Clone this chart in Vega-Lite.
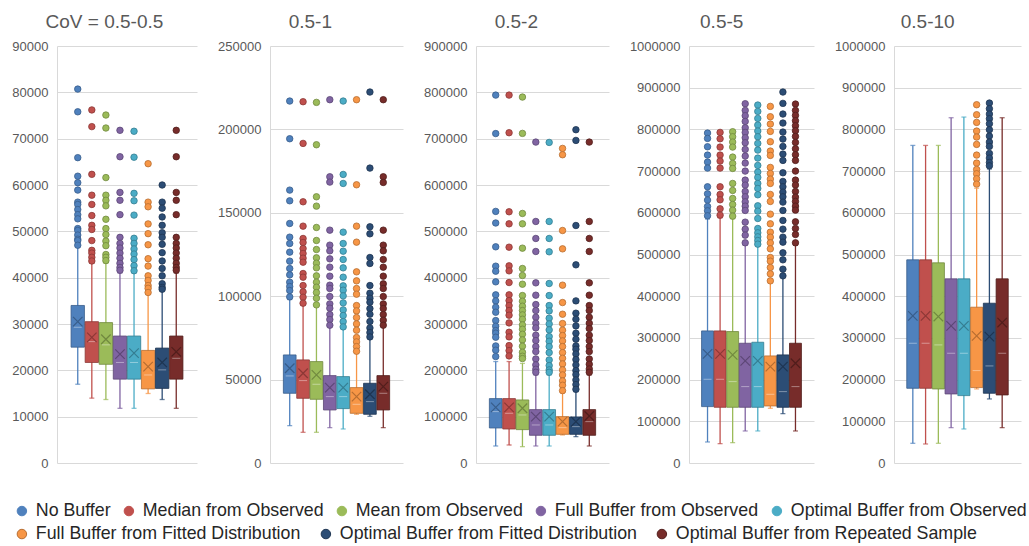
{
"$schema": "https://vega.github.io/schema/vega-lite/v6.json",
"padding": {"left": 11, "top": 13, "right": 0, "bottom": 0},
"spacing": 20,
"config": {
  "font": "Liberation Sans",
  "view": {"stroke": null},
  "axisY": {"domainColor": "#d9d9d9", "gridColor": "#d9d9d9", "ticks": false, "labelPadding": 9, "labelColor": "#595959", "labelFontSize": 13, "format": "d", "grid": true},
  "title": {"fontSize": 19, "fontWeight": "normal", "color": "#595959", "frame": "bounds", "anchor": "middle", "offset": 8}
},
"datasets": {"boxes": [
{"panel":1,"series":"No Buffer","low":17000,"q1":25000,"median":29300,"q3":34000,"high":46700,"mean":30500,"outliers":[80700,75800,65900,61900,60500,58900,56300,55800,54700,53600,52700,50600,50200,49200,48300,48000,47000]},
{"panel":1,"series":"Median from Observed","low":14000,"q1":21700,"median":26200,"q3":30500,"high":43100,"mean":27100,"outliers":[76200,72600,62300,57800,55800,53400,51300,50400,48000,45900,45300,44400,43600]},
{"panel":1,"series":"Mean from Observed","low":13700,"q1":21300,"median":25500,"q3":30300,"high":43100,"mean":26700,"outliers":[75100,72300,61600,57800,56700,55500,52600,50600,49300,47900,46900,45000,44400,43700]},
{"panel":1,"series":"Full Buffer from Observed","low":11800,"q1":18100,"median":21700,"q3":27400,"high":41000,"mean":23500,"outliers":[71800,66100,58400,56700,53600,48700,47400,46400,45300,44200,43100,42200,41600]},
{"panel":1,"series":"Optimal Buffer from Observed","low":11800,"q1":18100,"median":21700,"q3":27400,"high":41000,"mean":23700,"outliers":[71600,66000,58200,56600,53500,48500,47400,46200,45100,43900,42600,41500]},
{"panel":1,"series":"Full Buffer from Fitted Distribution","low":15000,"q1":16000,"median":19000,"q3":24300,"high":36500,"mean":20800,"outliers":[64600,56300,55300,51600,49500,47100,44100,42500,40400,39400,38300,37700,36800]},
{"panel":1,"series":"Optimal Buffer from Fitted Distribution","low":13700,"q1":16100,"median":20100,"q3":24800,"high":37300,"mean":21700,"outliers":[60000,56300,55000,53100,51300,49700,48700,47200,45400,43600,42000,40400,38700,37900,37500]},
{"panel":1,"series":"Optimal Buffer from Repeated Sample","low":11800,"q1":18100,"median":22600,"q3":27400,"high":41000,"mean":24000,"outliers":[71800,66100,58400,56700,53600,48700,47400,46400,45300,44200,43100,42200,41600]},
{"panel":2,"series":"No Buffer","low":22400,"q1":41800,"median":52200,"q3":64800,"high":98000,"mean":56800,"outliers":[217000,194400,163600,157200,143600,135400,131600,126400,121000,116600,112800,108400,105800,103400,99600]},
{"panel":2,"series":"Median from Observed","low":18400,"q1":38800,"median":49400,"q3":61800,"high":94500,"mean":53800,"outliers":[216600,191600,156600,142000,134600,132200,128600,125600,122800,120400,113600,111400,106400,102600,99400,95800]},
{"panel":2,"series":"Mean from Observed","low":18400,"q1":38200,"median":47200,"q3":60800,"high":94000,"mean":52800,"outliers":[216200,190800,159600,154000,141200,133400,128000,123000,119800,117000,112200,108400,105400,102200,98800,94800]},
{"panel":2,"series":"Full Buffer from Observed","low":21200,"q1":31800,"median":39800,"q3":52400,"high":82000,"mean":45200,"outliers":[217800,171600,168400,139600,130600,127200,122400,117400,112000,106600,104600,99800,95400,92800,89000,86000,82600]},
{"panel":2,"series":"Optimal Buffer from Observed","low":20400,"q1":32600,"median":39800,"q3":51800,"high":81000,"mean":45200,"outliers":[217000,173000,167600,138400,131600,127000,122000,117000,111400,106200,103600,100200,96000,91800,88400,84800,81600]},
{"panel":2,"series":"Full Buffer from Fitted Distribution","low":29200,"q1":29800,"median":35200,"q3":45200,"high":66500,"mean":39800,"outliers":[217800,166800,142000,132400,114600,109200,104600,101200,94400,91200,87200,83400,79600,75200,72600,69800,67000]},
{"panel":2,"series":"Optimal Buffer from Fitted Distribution","low":28000,"q1":29200,"median":36800,"q3":47800,"high":75000,"mean":41200,"outliers":[222400,176800,141600,137400,123200,119600,106400,101800,98800,96400,92600,89200,84800,81000,78200,75600]},
{"panel":2,"series":"Optimal Buffer from Repeated Sample","low":21200,"q1":31800,"median":41800,"q3":52400,"high":82000,"mean":45800,"outliers":[217800,171600,168200,139600,130600,127200,122000,117400,112000,107400,104600,99800,95400,92600,89000,85600,82600]},
{"panel":3,"series":"No Buffer","low":36700,"q1":75600,"median":110900,"q3":139000,"high":219000,"mean":120200,"outliers":[794000,711000,543000,518000,466600,424800,414000,391000,362900,349900,336200,325400,307400,295200,285800,280100,271400,252700,243400,229700]},
{"panel":3,"series":"Median from Observed","low":38900,"q1":73400,"median":107300,"q3":139000,"high":219000,"mean":120200,"outliers":[794000,712800,542200,516200,465800,425500,414700,389500,362900,350600,339800,329000,319000,302400,282200,272200,253400,242600,231100]},
{"panel":3,"series":"Mean from Observed","low":35300,"q1":72000,"median":103700,"q3":136100,"high":215000,"mean":118100,"outliers":[789800,711400,538600,516200,463700,419800,404600,385900,361400,349200,338400,329000,319700,310300,298100,288700,277900,265700,252000,239000,230400,225400]},
{"panel":3,"series":"Full Buffer from Observed","low":36700,"q1":59800,"median":82100,"q3":115200,"high":190000,"mean":100100,"outliers":[692600,521300,484600,456500,388800,362200,342000,329000,314600,301700,291600,275800,264200,251300,240500,224600,211700,202300,195800]},
{"panel":3,"series":"Optimal Buffer from Observed","low":36700,"q1":59800,"median":82100,"q3":115200,"high":190000,"mean":100100,"outliers":[691900,521300,484600,455800,387400,361400,339800,328300,312500,300200,287300,272900,262800,251300,238300,222500,210200,200900,195800]},
{"panel":3,"series":"Full Buffer from Fitted Distribution","low":60500,"q1":61900,"median":76300,"q3":100100,"high":152000,"mean":89300,"outliers":[679000,665300,501800,462200,383800,346300,321100,301000,286600,275000,263500,251300,238300,226100,213800,200900,190100,177100,167800,156200]},
{"panel":3,"series":"Optimal Buffer from Fitted Distribution","low":56900,"q1":61900,"median":78500,"q3":99400,"high":154000,"mean":89300,"outliers":[719300,696200,512600,427700,349900,323300,310300,295900,280100,267100,252700,245500,235400,223200,211700,199400,190800,179300,169200,159100]},
{"panel":3,"series":"Optimal Buffer from Repeated Sample","low":36700,"q1":59800,"median":89300,"q3":115200,"high":190000,"mean":101500,"outliers":[692600,521300,484600,456500,388800,362200,339800,329000,314600,301700,290200,275800,264200,251300,240500,224600,213100,203000,195800]},
{"panel":4,"series":"No Buffer","low":50400,"q1":135200,"median":200800,"q3":316800,"high":585000,"mean":261600,"outliers":[791200,778400,758400,738400,721600,707200,662400,645600,630400,615200,604800,592800]},
{"panel":4,"series":"Median from Observed","low":46400,"q1":133600,"median":200800,"q3":316800,"high":588000,"mean":261600,"outliers":[792800,777600,757600,738400,724000,707200,662400,644000,631200,609600,594400]},
{"panel":4,"series":"Mean from Observed","low":48800,"q1":133600,"median":195200,"q3":315200,"high":586000,"mean":259200,"outliers":[794400,782400,769600,757600,733600,718400,706400,670400,653600,634400,620000,606400,592000]},
{"panel":4,"series":"Full Buffer from Observed","low":76800,"q1":133600,"median":183200,"q3":287200,"high":522000,"mean":244800,"outliers":[861600,845600,832800,819200,804000,792800,780000,768000,752000,736000,719200,700000,678400,666400,651200,638400,626400,616000,605600,577600,560800,546400,528000]},
{"panel":4,"series":"Optimal Buffer from Observed","low":76800,"q1":133600,"median":183200,"q3":289600,"high":520000,"mean":244800,"outliers":[858400,843200,826400,810400,796000,782400,766400,750400,731200,713600,697600,684800,670400,658400,643200,616800,604000,586400,562400,552000,542400,533600,524800]},
{"panel":4,"series":"Full Buffer from Fitted Distribution","low":131200,"q1":136800,"median":164800,"q3":256800,"high":432000,"mean":231200,"outliers":[855200,830400,812800,795200,770400,748000,737600,708800,694400,680800,670400,644000,627200,596800,573600,553600,541600,528000,513600,492800,484000,468800,453600,436800]},
{"panel":4,"series":"Optimal Buffer from Fitted Distribution","low":118400,"q1":133600,"median":171200,"q3":259200,"high":446000,"mean":231200,"outliers":[889600,862400,836800,815200,793600,776800,759200,740800,725600,696000,675200,662400,649600,638400,625600,605600,581600,560800,541600,529600,504000,487200,464800,448800]},
{"panel":4,"series":"Optimal Buffer from Repeated Sample","low":76800,"q1":133600,"median":183200,"q3":287200,"high":522000,"mean":239200,"outliers":[860800,845600,833600,820800,808800,796800,783200,768800,753600,739200,725600,700000,678400,666400,651200,637600,627200,616000,606400,578400,562400,548000,528000]},
{"panel":5,"series":"No Buffer","low":47200,"q1":179200,"median":287200,"q3":487200,"high":761600,"mean":352800,"outliers":[]},
{"panel":5,"series":"Median from Observed","low":45600,"q1":179200,"median":287200,"q3":487200,"high":761600,"mean":352800,"outliers":[]},
{"panel":5,"series":"Mean from Observed","low":47200,"q1":177600,"median":283200,"q3":480000,"high":761600,"mean":351200,"outliers":[]},
{"panel":5,"series":"Full Buffer from Observed","low":84800,"q1":165600,"median":263200,"q3":441600,"high":828000,"mean":328800,"outliers":[]},
{"panel":5,"series":"Optimal Buffer from Observed","low":81600,"q1":161600,"median":263200,"q3":441600,"high":829600,"mean":328800,"outliers":[]},
{"panel":5,"series":"Full Buffer from Fitted Distribution","low":177600,"q1":180800,"median":221600,"q3":373600,"high":659000,"mean":304800,"outliers":[859200,835200,816800,796000,781600,764000,738400,719200,704000,693600,681600,668800]},
{"panel":5,"series":"Optimal Buffer from Fitted Distribution","low":153600,"q1":167200,"median":232800,"q3":383200,"high":705000,"mean":303200,"outliers":[863200,849600,836800,825600,813600,799200,784000,769600,759200,742400,731200,720800,712800]},
{"panel":5,"series":"Optimal Buffer from Repeated Sample","low":84800,"q1":163200,"median":263200,"q3":441600,"high":828000,"mean":336800,"outliers":[]}
]},
"hconcat": [
{
 "width": 140, "height": 417,
 "title": {"text": "CoV = 0.5-0.5"},
 "data": {"name": "boxes"},
 "transform": [{"filter": "datum.panel == 1"}],
 "encoding": {
  "x": {"field": "series", "type": "nominal", "sort": null, "scale": {"domain": ["No Buffer","Median from Observed","Mean from Observed","Full Buffer from Observed","Optimal Buffer from Observed","Full Buffer from Fitted Distribution","Optimal Buffer from Fitted Distribution","Optimal Buffer from Repeated Sample"], "paddingInner": 0.05, "paddingOuter": 3.9}, "axis": null},
  "color": {"field": "series", "type": "nominal", "scale": {"domain": ["No Buffer","Median from Observed","Mean from Observed","Full Buffer from Observed","Optimal Buffer from Observed","Full Buffer from Fitted Distribution","Optimal Buffer from Fitted Distribution","Optimal Buffer from Repeated Sample"], "range": ["#4F81BD","#C0504D","#9BBB59","#8064A2","#4BACC6","#F79646","#2C4D75","#772C2A"]},
    "legend": {"title": null, "orient": "none", "legendX": -44, "legendY": 456, "direction": "horizontal", "values": ["No Buffer","Median from Observed","Mean from Observed","Full Buffer from Observed","Optimal Buffer from Observed"], "symbolType": "circle", "symbolSize": 90, "symbolStrokeWidth": 1, "labelFontSize": 17.8, "labelColor": "#262626", "labelOffset": 5, "columnPadding": 9, "labelLimit": 400, "symbolOpacity": 1,
      "encode": {"symbols": {"update": {"fill": {"scale": "color", "field": "value"}, "stroke": {"scale": "stroke", "field": "value"}, "opacity": {"value": 1}}}}}}
 },
 "layer": [
  {"mark": {"type": "rule", "strokeWidth": 1.3}, "encoding": {"y": {"field": "low", "type": "quantitative", "scale": {"domain": [0, 90000], "nice": false}, "axis": {"values": [0,10000,20000,30000,40000,50000,60000,70000,80000,90000], "title": null}}, "y2": {"field": "high"}}},
  {"mark": {"type": "tick", "size": 5, "thickness": 1.3}, "encoding": {"y": {"field": "low", "type": "quantitative", "scale": {"domain": [0, 90000], "nice": false}, "title": null}}},
  {"mark": {"type": "tick", "size": 5, "thickness": 1.3}, "encoding": {"y": {"field": "high", "type": "quantitative", "scale": {"domain": [0, 90000], "nice": false}, "title": null}}},
  {"mark": {"type": "bar", "strokeWidth": 0.8, "opacity": 1}, "encoding": {"y": {"field": "q1", "type": "quantitative", "scale": {"domain": [0, 90000], "nice": false}, "title": null}, "y2": {"field": "q3"},
    "fill": {"field": "series", "type": "nominal", "scale": {"domain": ["Optimal Buffer from Repeated Sample","Optimal Buffer from Fitted Distribution","Full Buffer from Fitted Distribution","Optimal Buffer from Observed","Full Buffer from Observed","Mean from Observed","Median from Observed","No Buffer"], "range": ["#772C2A","#2C4D75","#F79646","#4BACC6","#8064A2","#9BBB59","#C0504D","#4F81BD"]},
      "legend": {"title": null, "orient": "none", "legendX": -44, "legendY": 479, "direction": "horizontal", "values": ["Full Buffer from Fitted Distribution","Optimal Buffer from Fitted Distribution","Optimal Buffer from Repeated Sample"], "symbolType": "circle", "symbolSize": 90, "symbolStrokeWidth": 1, "labelFontSize": 17.8, "labelColor": "#262626", "labelOffset": 5, "columnPadding": 16, "labelLimit": 400, "symbolOpacity": 1,
        "encode": {"symbols": {"update": {"stroke": {"scale": "stroke", "field": "value"}, "opacity": {"value": 1}}}}}},
    "stroke": {"field": "series", "type": "nominal", "scale": {"domain": ["Optimal Buffer from Repeated Sample","Optimal Buffer from Fitted Distribution","Full Buffer from Fitted Distribution","Optimal Buffer from Observed","Full Buffer from Observed","Mean from Observed","Median from Observed","No Buffer"], "range": ["#511E1C","#1E3552","#B66D31","#357D91","#5C4776","#71893F","#8C3836","#385D8A"]}, "legend": null}}},
  {"mark": {"type": "tick", "size": 8, "thickness": 1, "opacity": 0.4}, "encoding": {"y": {"field": "median", "type": "quantitative", "scale": {"domain": [0, 90000], "nice": false}, "title": null}, "color": {"value": "#ffffff"}}},
  {"mark": {"type": "point", "shape": "M-1,-1L1,1M-1,1L1,-1", "filled": false, "size": 90, "strokeWidth": 1.2, "opacity": 1}, "encoding": {"y": {"field": "mean", "type": "quantitative", "scale": {"domain": [0, 90000], "nice": false}, "title": null}, "stroke": {"field": "series", "type": "nominal", "legend": null}}},
  {"transform": [{"flatten": ["outliers"]}], "mark": {"type": "circle", "size": 42, "opacity": 1, "strokeWidth": 0.8}, "encoding": {"y": {"field": "outliers", "type": "quantitative", "scale": {"domain": [0, 90000], "nice": false}, "title": null}, "stroke": {"field": "series", "type": "nominal", "legend": null}}}
 ]
},
{
 "width": 133, "height": 417,
 "title": {"text": "0.5-1"},
 "data": {"name": "boxes"},
 "transform": [{"filter": "datum.panel == 2"}],
 "encoding": {
  "x": {"field": "series", "type": "nominal", "sort": null, "scale": {"domain": ["No Buffer","Median from Observed","Mean from Observed","Full Buffer from Observed","Optimal Buffer from Observed","Full Buffer from Fitted Distribution","Optimal Buffer from Fitted Distribution","Optimal Buffer from Repeated Sample"], "paddingInner": 0.05, "paddingOuter": 3.9}, "axis": null},
  "color": {"field": "series", "type": "nominal", "legend": null}
 },
 "layer": [
  {"mark": {"type": "rule", "strokeWidth": 1.3}, "encoding": {"y": {"field": "low", "type": "quantitative", "scale": {"domain": [0, 250000], "nice": false}, "axis": {"values": [0,50000,100000,150000,200000,250000], "title": null}}, "y2": {"field": "high"}}},
  {"mark": {"type": "tick", "size": 5, "thickness": 1.3}, "encoding": {"y": {"field": "low", "type": "quantitative", "scale": {"domain": [0, 250000], "nice": false}, "title": null}}},
  {"mark": {"type": "tick", "size": 5, "thickness": 1.3}, "encoding": {"y": {"field": "high", "type": "quantitative", "scale": {"domain": [0, 250000], "nice": false}, "title": null}}},
  {"mark": {"type": "bar", "strokeWidth": 0.8, "opacity": 1}, "encoding": {"y": {"field": "q1", "type": "quantitative", "scale": {"domain": [0, 250000], "nice": false}, "title": null}, "y2": {"field": "q3"}, "fill": {"field": "series", "type": "nominal", "legend": null}, "stroke": {"field": "series", "type": "nominal", "legend": null}}},
  {"mark": {"type": "tick", "size": 8, "thickness": 1, "opacity": 0.4}, "encoding": {"y": {"field": "median", "type": "quantitative", "scale": {"domain": [0, 250000], "nice": false}, "title": null}, "color": {"value": "#ffffff"}}},
  {"mark": {"type": "point", "shape": "M-1,-1L1,1M-1,1L1,-1", "filled": false, "size": 90, "strokeWidth": 1.2, "opacity": 1}, "encoding": {"y": {"field": "mean", "type": "quantitative", "scale": {"domain": [0, 250000], "nice": false}, "title": null}, "stroke": {"field": "series", "type": "nominal", "legend": null}}},
  {"transform": [{"flatten": ["outliers"]}], "mark": {"type": "circle", "size": 42, "opacity": 1, "strokeWidth": 0.8}, "encoding": {"y": {"field": "outliers", "type": "quantitative", "scale": {"domain": [0, 250000], "nice": false}, "title": null}, "stroke": {"field": "series", "type": "nominal", "legend": null}}}
 ]
},
{
 "width": 133, "height": 417,
 "title": {"text": "0.5-2"},
 "data": {"name": "boxes"},
 "transform": [{"filter": "datum.panel == 3"}],
 "encoding": {
  "x": {"field": "series", "type": "nominal", "sort": null, "scale": {"domain": ["No Buffer","Median from Observed","Mean from Observed","Full Buffer from Observed","Optimal Buffer from Observed","Full Buffer from Fitted Distribution","Optimal Buffer from Fitted Distribution","Optimal Buffer from Repeated Sample"], "paddingInner": 0.05, "paddingOuter": 3.9}, "axis": null},
  "color": {"field": "series", "type": "nominal", "legend": null}
 },
 "layer": [
  {"mark": {"type": "rule", "strokeWidth": 1.3}, "encoding": {"y": {"field": "low", "type": "quantitative", "scale": {"domain": [0, 900000], "nice": false}, "axis": {"values": [0,100000,200000,300000,400000,500000,600000,700000,800000,900000], "title": null}}, "y2": {"field": "high"}}},
  {"mark": {"type": "tick", "size": 5, "thickness": 1.3}, "encoding": {"y": {"field": "low", "type": "quantitative", "scale": {"domain": [0, 900000], "nice": false}, "title": null}}},
  {"mark": {"type": "tick", "size": 5, "thickness": 1.3}, "encoding": {"y": {"field": "high", "type": "quantitative", "scale": {"domain": [0, 900000], "nice": false}, "title": null}}},
  {"mark": {"type": "bar", "strokeWidth": 0.8, "opacity": 1}, "encoding": {"y": {"field": "q1", "type": "quantitative", "scale": {"domain": [0, 900000], "nice": false}, "title": null}, "y2": {"field": "q3"}, "fill": {"field": "series", "type": "nominal", "legend": null}, "stroke": {"field": "series", "type": "nominal", "legend": null}}},
  {"mark": {"type": "tick", "size": 8, "thickness": 1, "opacity": 0.4}, "encoding": {"y": {"field": "median", "type": "quantitative", "scale": {"domain": [0, 900000], "nice": false}, "title": null}, "color": {"value": "#ffffff"}}},
  {"mark": {"type": "point", "shape": "M-1,-1L1,1M-1,1L1,-1", "filled": false, "size": 90, "strokeWidth": 1.2, "opacity": 1}, "encoding": {"y": {"field": "mean", "type": "quantitative", "scale": {"domain": [0, 900000], "nice": false}, "title": null}, "stroke": {"field": "series", "type": "nominal", "legend": null}}},
  {"transform": [{"flatten": ["outliers"]}], "mark": {"type": "circle", "size": 42, "opacity": 1, "strokeWidth": 0.8}, "encoding": {"y": {"field": "outliers", "type": "quantitative", "scale": {"domain": [0, 900000], "nice": false}, "title": null}, "stroke": {"field": "series", "type": "nominal", "legend": null}}}
 ]
},
{
 "width": 125, "height": 417,
 "title": {"text": "0.5-5"},
 "data": {"name": "boxes"},
 "transform": [{"filter": "datum.panel == 4"}],
 "encoding": {
  "x": {"field": "series", "type": "nominal", "sort": null, "scale": {"domain": ["No Buffer","Median from Observed","Mean from Observed","Full Buffer from Observed","Optimal Buffer from Observed","Full Buffer from Fitted Distribution","Optimal Buffer from Fitted Distribution","Optimal Buffer from Repeated Sample"], "paddingInner": 0.05, "paddingOuter": 3.9}, "axis": null},
  "color": {"field": "series", "type": "nominal", "legend": null}
 },
 "layer": [
  {"mark": {"type": "rule", "strokeWidth": 1.3}, "encoding": {"y": {"field": "low", "type": "quantitative", "scale": {"domain": [0, 1000000], "nice": false}, "axis": {"values": [0,100000,200000,300000,400000,500000,600000,700000,800000,900000,1000000], "title": null}}, "y2": {"field": "high"}}},
  {"mark": {"type": "tick", "size": 5, "thickness": 1.3}, "encoding": {"y": {"field": "low", "type": "quantitative", "scale": {"domain": [0, 1000000], "nice": false}, "title": null}}},
  {"mark": {"type": "tick", "size": 5, "thickness": 1.3}, "encoding": {"y": {"field": "high", "type": "quantitative", "scale": {"domain": [0, 1000000], "nice": false}, "title": null}}},
  {"mark": {"type": "bar", "strokeWidth": 0.8, "opacity": 1}, "encoding": {"y": {"field": "q1", "type": "quantitative", "scale": {"domain": [0, 1000000], "nice": false}, "title": null}, "y2": {"field": "q3"}, "fill": {"field": "series", "type": "nominal", "legend": null}, "stroke": {"field": "series", "type": "nominal", "legend": null}}},
  {"mark": {"type": "tick", "size": 8, "thickness": 1, "opacity": 0.4}, "encoding": {"y": {"field": "median", "type": "quantitative", "scale": {"domain": [0, 1000000], "nice": false}, "title": null}, "color": {"value": "#ffffff"}}},
  {"mark": {"type": "point", "shape": "M-1,-1L1,1M-1,1L1,-1", "filled": false, "size": 90, "strokeWidth": 1.2, "opacity": 1}, "encoding": {"y": {"field": "mean", "type": "quantitative", "scale": {"domain": [0, 1000000], "nice": false}, "title": null}, "stroke": {"field": "series", "type": "nominal", "legend": null}}},
  {"transform": [{"flatten": ["outliers"]}], "mark": {"type": "circle", "size": 42, "opacity": 1, "strokeWidth": 0.8}, "encoding": {"y": {"field": "outliers", "type": "quantitative", "scale": {"domain": [0, 1000000], "nice": false}, "title": null}, "stroke": {"field": "series", "type": "nominal", "legend": null}}}
 ]
},
{
 "width": 127, "height": 417,
 "title": {"text": "0.5-10"},
 "data": {"name": "boxes"},
 "transform": [{"filter": "datum.panel == 5"}],
 "encoding": {
  "x": {"field": "series", "type": "nominal", "sort": null, "scale": {"domain": ["No Buffer","Median from Observed","Mean from Observed","Full Buffer from Observed","Optimal Buffer from Observed","Full Buffer from Fitted Distribution","Optimal Buffer from Fitted Distribution","Optimal Buffer from Repeated Sample"], "paddingInner": 0.05, "paddingOuter": 4.05}, "axis": null},
  "color": {"field": "series", "type": "nominal", "legend": null}
 },
 "layer": [
  {"mark": {"type": "rule", "strokeWidth": 1.3}, "encoding": {"y": {"field": "low", "type": "quantitative", "scale": {"domain": [0, 1000000], "nice": false}, "axis": {"values": [0,100000,200000,300000,400000,500000,600000,700000,800000,900000,1000000], "title": null}}, "y2": {"field": "high"}}},
  {"mark": {"type": "tick", "size": 5, "thickness": 1.3}, "encoding": {"y": {"field": "low", "type": "quantitative", "scale": {"domain": [0, 1000000], "nice": false}, "title": null}}},
  {"mark": {"type": "tick", "size": 5, "thickness": 1.3}, "encoding": {"y": {"field": "high", "type": "quantitative", "scale": {"domain": [0, 1000000], "nice": false}, "title": null}}},
  {"mark": {"type": "bar", "strokeWidth": 0.8, "opacity": 1}, "encoding": {"y": {"field": "q1", "type": "quantitative", "scale": {"domain": [0, 1000000], "nice": false}, "title": null}, "y2": {"field": "q3"}, "fill": {"field": "series", "type": "nominal", "legend": null}, "stroke": {"field": "series", "type": "nominal", "legend": null}}},
  {"mark": {"type": "tick", "size": 8, "thickness": 1, "opacity": 0.4}, "encoding": {"y": {"field": "median", "type": "quantitative", "scale": {"domain": [0, 1000000], "nice": false}, "title": null}, "color": {"value": "#ffffff"}}},
  {"mark": {"type": "point", "shape": "M-1,-1L1,1M-1,1L1,-1", "filled": false, "size": 90, "strokeWidth": 1.2, "opacity": 1}, "encoding": {"y": {"field": "mean", "type": "quantitative", "scale": {"domain": [0, 1000000], "nice": false}, "title": null}, "stroke": {"field": "series", "type": "nominal", "legend": null}}},
  {"transform": [{"flatten": ["outliers"]}], "mark": {"type": "circle", "size": 42, "opacity": 1, "strokeWidth": 0.8}, "encoding": {"y": {"field": "outliers", "type": "quantitative", "scale": {"domain": [0, 1000000], "nice": false}, "title": null}, "stroke": {"field": "series", "type": "nominal", "legend": null}}}
 ]
}
]
}
